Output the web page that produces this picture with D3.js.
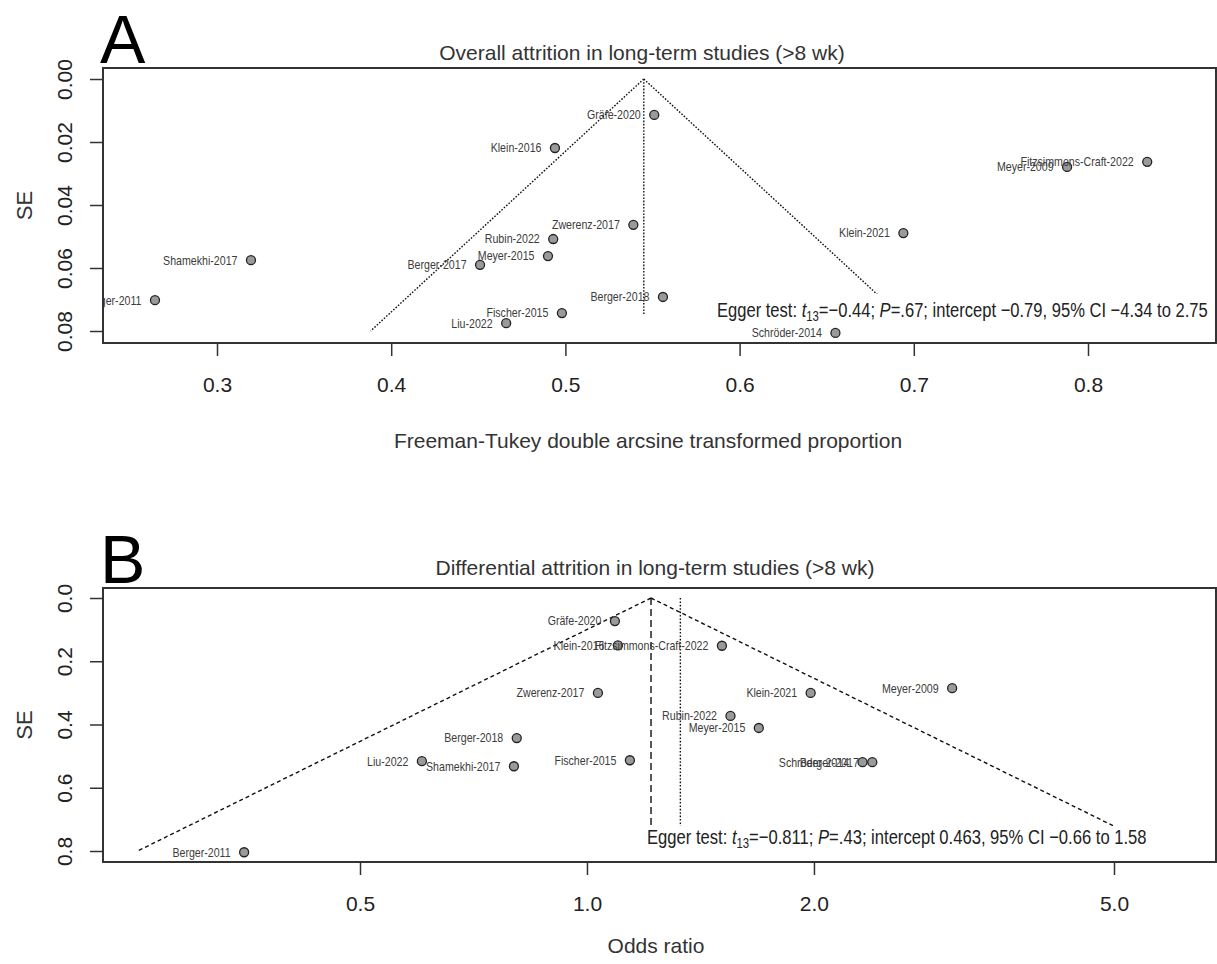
<!DOCTYPE html>
<html>
<head>
<meta charset="utf-8">
<script src="https://cdn.jsdelivr.net/npm/d3@7"></script>
<style>
  body { margin: 0; background: #fff; }
  text { font-family: "Liberation Sans", Arial, sans-serif; fill: #222; }
</style>
</head>
<body>
<script>
// ---- data: panel A (Freeman-Tukey transformed proportion vs SE)
var studiesA = ['Gräfe-2020', 'Klein-2016', 'Zwerenz-2017', 'Rubin-2022', 'Meyer-2015',
    'Berger-2017', 'Berger-2018', 'Fischer-2015', 'Liu-2022', 'Schröder-2014',
    'Klein-2021', 'Meyer-2009', 'Fitzsimmons-Craft-2022', 'Shamekhi-2017', 'Berger-2011'];
var propA = [0.551, 0.494, 0.539, 0.493, 0.490, 0.451, 0.556, 0.498, 0.466, 0.655,
    0.694, 0.788, 0.834, 0.3195, 0.2644];
var seA = [0.0114, 0.0219, 0.0463, 0.0508, 0.0562, 0.0590, 0.0692, 0.0743, 0.0775, 0.0806,
    0.0489, 0.0279, 0.0263, 0.0575, 0.0702];
var xTicksA = [0.3, 0.4, 0.5, 0.6, 0.7, 0.8];
var yTicksA = [0, 0.02, 0.04, 0.06, 0.08];
var estA = 0.545;

// ---- data: panel B (odds ratio vs SE)
var studiesB = ['Gräfe-2020', 'Klein-2016', 'Fitzsimmons-Craft-2022', 'Zwerenz-2017', 'Klein-2021',
    'Meyer-2009', 'Rubin-2022', 'Meyer-2015', 'Berger-2018', 'Liu-2022',
    'Shamekhi-2017', 'Fischer-2015', 'Schröder-2014', 'Berger-2017', 'Berger-2011'];
var orB = [1.089, 1.099, 1.51, 1.034, 1.98, 3.05, 1.55, 1.69, 0.807, 0.604,
    0.800, 1.14, 2.32, 2.39, 0.351];
var seB = [0.073, 0.150, 0.151, 0.300, 0.300, 0.285, 0.373, 0.411, 0.443, 0.516,
    0.532, 0.513, 0.519, 0.519, 0.804];
var xTicksB = [0.5, 1.0, 2.0, 5.0];
var yTicksB = [0, 0.2, 0.4, 0.6, 0.8];
var estB = 1.216, estB2 = 1.33;

var svg = d3.select('body').append('svg')
    .attr('width', 1217)
    .attr('height', 964);

var left = 103, right = 1216;

function squeeze(sel, target) {
    // condensed look of the R labels
    var w = sel.select('text').node().getBBox().width;
    var t = sel.attr('transform');
    sel.attr('transform', t + ' scale(' + (target ? target / w : 0.85) + ',1)');
}

function drawPanel(p) {
    var g = svg.append('g');

    svg.append('clipPath').attr('id', 'clip' + p.letter)
        .append('rect')
        .attr('x', left).attr('y', p.top)
        .attr('width', right - left).attr('height', p.bottom - p.top);

    var plot = g.append('g').attr('clip-path', 'url(#clip' + p.letter + ')');

    // funnel
    var line = d3.line().x(d => p.x(d[0])).y(d => p.y(d[1]));
    var lo = [[p.est, 0], [p.bound(-1, p.seMax), p.seMax]],
        hi = [[p.est, 0], [p.bound(1, p.seMax), p.seMax]];
    [lo, hi].forEach(function(d) {
        plot.append('path').attr('d', line(d))
            .attr('fill', 'none').attr('stroke', '#111')
            .attr('stroke-width', 1.4).attr('stroke-dasharray', p.funnelDash);
    });
    p.refs.forEach(function(r) {
        plot.append('path').attr('d', line([[r.v, 0], [r.v, r.end]]))
            .attr('fill', 'none').attr('stroke', '#111')
            .attr('stroke-width', 1.4).attr('stroke-dasharray', r.dash);
    });

    // white box behind Egger text
    plot.append('rect')
        .attr('x', p.egg.boxX).attr('y', p.egg.boxY)
        .attr('width', right - p.egg.boxX).attr('height', p.bottom - p.egg.boxY)
        .attr('fill', '#fff');

    // points + labels
    var pts = plot.selectAll('g.pt').data(p.names).enter().append('g').attr('class', 'pt');
    pts.append('circle')
        .attr('cx', (d, i) => p.x(p.vals[i]))
        .attr('cy', (d, i) => p.y(p.se[i]))
        .attr('r', 4.5)
        .attr('fill', '#9a9a9a').attr('stroke', '#222').attr('stroke-width', 1.3);
    pts.each(function(d, i) {
        var lg = d3.select(this).append('g')
            .attr('transform', 'translate(' + (p.x(p.vals[i]) - 13.5) + ',' + p.y(p.se[i]) + ')');
        lg.append('text').text(d)
            .attr('text-anchor', 'end').attr('dy', '0.35em')
            .style('font-size', '12.5px').style('fill', '#3c3c3c');
        squeeze(lg);
    });

    // Egger text
    var eg = g.append('g').attr('transform', 'translate(' + p.egg.x + ',' + p.egg.y + ')');
    var et = eg.append('text').style('font-size', '20.5px');
    et.append('tspan').text('Egger test: ');
    et.append('tspan').text('t').style('font-style', 'italic');
    et.append('tspan').text('13').style('font-size', '14px').attr('dy', 4);
    et.append('tspan').text(p.egg.t).attr('dy', -4);
    et.append('tspan').text('P').style('font-style', 'italic');
    et.append('tspan').text(p.egg.rest);
    squeeze(eg, p.egg.width);

    // box
    g.append('rect')
        .attr('x', left).attr('y', p.top)
        .attr('width', right - left).attr('height', p.bottom - p.top)
        .attr('fill', 'none').attr('stroke', '#333').attr('stroke-width', 2);

    // axes
    var xa = g.append('g').attr('transform', 'translate(0,' + p.bottom + ')')
        .call(d3.axisBottom(p.x).tickValues(p.xTicks).tickSize(13).tickPadding(21)
            .tickFormat(p.xFmt));
    var ya = g.append('g').attr('transform', 'translate(' + left + ',0)')
        .call(d3.axisLeft(p.y).tickValues(p.yTicks).tickSize(13).tickFormat(p.yFmt));
    [xa, ya].forEach(function(a) {
        a.select('.domain').remove();
        a.selectAll('line').attr('stroke', '#333').attr('stroke-width', 1.5);
        a.selectAll('text').style('font-size', '21px').style('fill', '#222')
            .attr('font-family', null);
    });
    ya.selectAll('text')
        .attr('x', 0).attr('dy', 0)
        .attr('text-anchor', 'middle')
        .attr('transform', 'translate(-31,0) rotate(-90)');

    // titles
    g.append('text').attr('x', p.titleX).attr('y', p.titleY)
        .attr('text-anchor', 'middle').style('font-size', '21px').style('fill', '#333')
        .text(p.title);
    g.append('text').attr('x', p.xlabX).attr('y', p.xlabY)
        .attr('text-anchor', 'middle').style('font-size', '21px').style('fill', '#333')
        .text(p.xlab);
    g.append('text')
        .attr('transform', 'translate(32,' + (p.top + p.bottom) / 2 + ') rotate(-90)')
        .attr('text-anchor', 'middle').style('font-size', '22px').style('fill', '#333')
        .text('SE');
    g.append('text').attr('x', 100).attr('y', p.top - 5)
        .style('font-size', '68px').style('fill', '#000')
        .text(p.letter);
}

// panel A
var xA = d3.scaleLinear().domain([0.3, 0.8]).range([217, 1088]);
var yA = d3.scaleLinear().domain([0, 0.08]).range([79, 331]);
drawPanel({
    letter: 'A', top: 68, bottom: 343,
    x: xA, y: yA,
    names: studiesA, vals: propA, se: seA,
    est: estA, seMax: 0.08,
    bound: (s, se) => estA + s * 1.96 * se,
    funnelDash: '1.6,1.6',
    refs: [{v: estA, end: 0.0746, dash: '1.6,1.6'}],
    xTicks: xTicksA, yTicks: yTicksA,
    xFmt: d3.format('.1f'), yFmt: d3.format('.2f'),
    egg: {x: 717, y: 317, width: 491, boxX: 700, boxY: 294,
          t: '=\u22120.44; ', rest: '=.67; intercept \u22120.79, 95% CI \u22124.34 to 2.75'},
    title: 'Overall attrition in long-term studies (>8 wk)', titleX: 642, titleY: 60,
    xlab: 'Freeman-Tukey double arcsine transformed proportion', xlabX: 648, xlabY: 448
});

// panel B
var xB = d3.scaleLog().domain([0.5, 5]).range([360, 1114]);
var yB = d3.scaleLinear().domain([0, 0.8]).range([598, 851]);
drawPanel({
    letter: 'B', top: 588, bottom: 862,
    x: xB, y: yB,
    names: studiesB, vals: orB, se: seB,
    est: estB, seMax: 0.8,
    bound: (s, se) => Math.exp(Math.log(estB) + s * 1.96 * se),
    funnelDash: '4,3',
    refs: [{v: estB, end: 0.8, dash: '7,4'}, {v: estB2, end: 0.8, dash: '1.6,1.8'}],
    xTicks: xTicksB, yTicks: yTicksB,
    xFmt: d3.format('.1f'), yFmt: d3.format('.1f'),
    egg: {x: 647, y: 844, width: 500, boxX: 640, boxY: 826,
          t: '=\u22120.811; ', rest: '=.43; intercept 0.463, 95% CI \u22120.66 to 1.58'},
    title: 'Differential attrition in long-term studies (>8 wk)', titleX: 655, titleY: 575,
    xlab: 'Odds ratio', xlabX: 656, xlabY: 953
});
</script>
</body>
</html>
